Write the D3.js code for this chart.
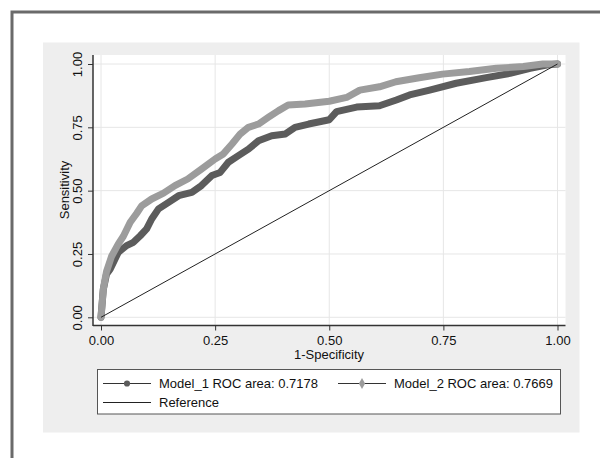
<!DOCTYPE html>
<html>
<head>
<meta charset="utf-8">
<script src="https://cdn.jsdelivr.net/npm/d3@7"></script>
<style>
  body { margin: 0; background: #fff; }
  svg text { font-family: "Liberation Sans", Arial, sans-serif; fill: #111; }
</style>
</head>
<body>
<div id="chart"></div>
<script>
// ROC curves, values (1-specificity, sensitivity)
const model1X = [0, 0.005, 0.012, 0.02, 0.038, 0.056, 0.071, 0.086, 0.1, 0.111, 0.126, 0.148, 0.17, 0.199, 0.22, 0.243, 0.261, 0.279, 0.301, 0.323, 0.345, 0.374, 0.404, 0.425, 0.455, 0.5, 0.516, 0.56, 0.61, 0.647, 0.676, 0.72, 0.778, 0.844, 0.896, 0.94, 0.976, 1];
const model1Y = [0, 0.11, 0.17, 0.19, 0.257, 0.283, 0.296, 0.322, 0.349, 0.388, 0.428, 0.454, 0.48, 0.493, 0.52, 0.56, 0.572, 0.612, 0.638, 0.664, 0.697, 0.717, 0.724, 0.75, 0.763, 0.78, 0.812, 0.83, 0.835, 0.858, 0.878, 0.897, 0.924, 0.946, 0.963, 0.983, 0.996, 1];
const model2X = [0, 0.005, 0.012, 0.023, 0.038, 0.049, 0.064, 0.078, 0.089, 0.111, 0.137, 0.162, 0.19, 0.22, 0.25, 0.268, 0.287, 0.305, 0.323, 0.345, 0.367, 0.389, 0.41, 0.447, 0.5, 0.538, 0.567, 0.61, 0.646, 0.697, 0.748, 0.807, 0.866, 0.925, 0.968, 1];
const model2Y = [0, 0.11, 0.18, 0.24, 0.29, 0.32, 0.375, 0.41, 0.44, 0.467, 0.49, 0.52, 0.546, 0.585, 0.625, 0.645, 0.684, 0.724, 0.75, 0.763, 0.79, 0.816, 0.838, 0.842, 0.853, 0.868, 0.897, 0.91, 0.93, 0.946, 0.96, 0.97, 0.983, 0.99, 1, 1];
const refX = [0, 1];
const refY = [0, 1];
const tickValues = [0, 0.25, 0.5, 0.75, 1];
const legendLabels = ["Model_1 ROC area: 0.7178", "Model_2 ROC area: 0.7669", "Reference"];

const w = 600, h = 458;
const plot = { left: 93, right: 565.5, top: 55, bottom: 325.5 };
const dark = "#5c5c5c", light = "#9c9c9c";

const xScale = d3.scaleLinear().domain([0, 1]).range([101, 557.5]);
const yScale = d3.scaleLinear().domain([0, 1]).range([317.3, 64]);

const svg = d3.select("#chart").append("svg")
  .attr("width", w).attr("height", h);

// outer frame and gray graph region
svg.append("rect").attr("x", 12).attr("y", 12).attr("width", 620).attr("height", 480)
  .attr("fill", "#fff").attr("stroke", "#6a6a6a").attr("stroke-width", 3);
svg.append("rect").attr("x", 43).attr("y", 42.5).attr("width", 536.5).attr("height", 390)
  .attr("fill", "#eeeeee");
svg.append("rect").attr("x", plot.left).attr("y", plot.top)
  .attr("width", plot.right - plot.left).attr("height", plot.bottom - plot.top)
  .attr("fill", "#fff");

// grid
svg.append("g").selectAll("line").data(tickValues).enter().append("line")
  .attr("x1", d => xScale(d)).attr("x2", d => xScale(d))
  .attr("y1", plot.top).attr("y2", plot.bottom)
  .attr("stroke", "#e6e6e6").attr("stroke-width", 1);
svg.append("g").selectAll("line").data(tickValues).enter().append("line")
  .attr("y1", d => yScale(d)).attr("y2", d => yScale(d))
  .attr("x1", plot.left).attr("x2", plot.right)
  .attr("stroke", "#e6e6e6").attr("stroke-width", 1);

// axes
const fmt = d3.format(".2f");
const yAxis = svg.append("g").attr("transform", `translate(${plot.left},0)`)
  .call(d3.axisLeft(yScale).tickValues(tickValues).tickFormat(fmt).tickSize(5));
yAxis.select(".domain").remove();
yAxis.selectAll("line").attr("stroke", "#333");
yAxis.selectAll("text")
  .attr("transform", "rotate(-90)")
  .attr("x", 0).attr("y", -11).attr("dy", 0)
  .attr("text-anchor", "middle")
  .style("font-size", "13px").style("font-family", "Liberation Sans, Arial, sans-serif").attr("fill", "#111");

const xAxis = svg.append("g").attr("transform", `translate(0,${plot.bottom})`)
  .call(d3.axisBottom(xScale).tickValues(tickValues).tickFormat(fmt).tickSize(5));
xAxis.select(".domain").remove();
xAxis.selectAll("line").attr("stroke", "#333");
xAxis.selectAll("text").attr("y", 19).attr("dy", 0)
  .style("font-size", "13px").style("font-family", "Liberation Sans, Arial, sans-serif").attr("fill", "#111");

svg.append("line").attr("x1", plot.left).attr("x2", plot.left)
  .attr("y1", plot.top).attr("y2", plot.bottom + 0.5).attr("stroke", "#333").attr("stroke-width", 1.5);
svg.append("line").attr("x1", plot.left).attr("x2", plot.right)
  .attr("y1", plot.bottom).attr("y2", plot.bottom).attr("stroke", "#333").attr("stroke-width", 1.5);

// axis titles
svg.append("text").attr("x", 329).attr("y", 358.5).attr("text-anchor", "middle")
  .style("font-size", "13px").text("1-Specificity");
svg.append("text").attr("transform", "translate(69,190) rotate(-90)").attr("text-anchor", "middle")
  .style("font-size", "13px").text("Sensitivity");

// curves
const line = d3.line().x(d => xScale(d[0])).y(d => yScale(d[1]));
const m1 = d3.zip(model1X, model1Y);
const m2 = d3.zip(model2X, model2Y);

svg.append("path").datum(m1).attr("d", line)
  .attr("fill", "none").attr("stroke", dark).attr("stroke-width", 7)
  .attr("stroke-linejoin", "round").attr("stroke-linecap", "round");
svg.append("path").datum(m2).attr("d", line)
  .attr("fill", "none").attr("stroke", light).attr("stroke-width", 7)
  .attr("stroke-linejoin", "round").attr("stroke-linecap", "round");
svg.append("path").datum(d3.zip(refX, refY)).attr("d", line)
  .attr("fill", "none").attr("stroke", "#222").attr("stroke-width", 1);

// legend
const lg = svg.append("g");
lg.append("rect").attr("x", 97.5).attr("y", 369.5).attr("width", 463).attr("height", 44.5)
  .attr("fill", "#fff").attr("stroke", "#555").attr("stroke-width", 1);
const rows = [
  { x: 103, y: 383.5, color: dark, marker: "circle", label: legendLabels[0] },
  { x: 338, y: 383.5, color: light, marker: "diamond", label: legendLabels[1] },
  { x: 103, y: 402.5, color: "#222", marker: null, label: legendLabels[2] }
];
rows.forEach(r => {
  lg.append("line").attr("x1", r.x).attr("x2", r.x + 48).attr("y1", r.y).attr("y2", r.y)
    .attr("stroke", r.marker ? "#333" : "#222").attr("stroke-width", 1);
  if (r.marker) {
    lg.append("path")
      .attr("d", d3.symbol().type(r.marker === "circle" ? d3.symbolCircle : d3.symbolDiamond).size(r.marker === "circle" ? 30 : 34))
      .attr("transform", `translate(${r.x + 24},${r.y})`)
      .attr("fill", r.color);
  }
  lg.append("text").attr("x", r.x + 56).attr("y", r.y + 4.6)
    .style("font-size", "13px").text(r.label);
});
</script>
</body>
</html>
